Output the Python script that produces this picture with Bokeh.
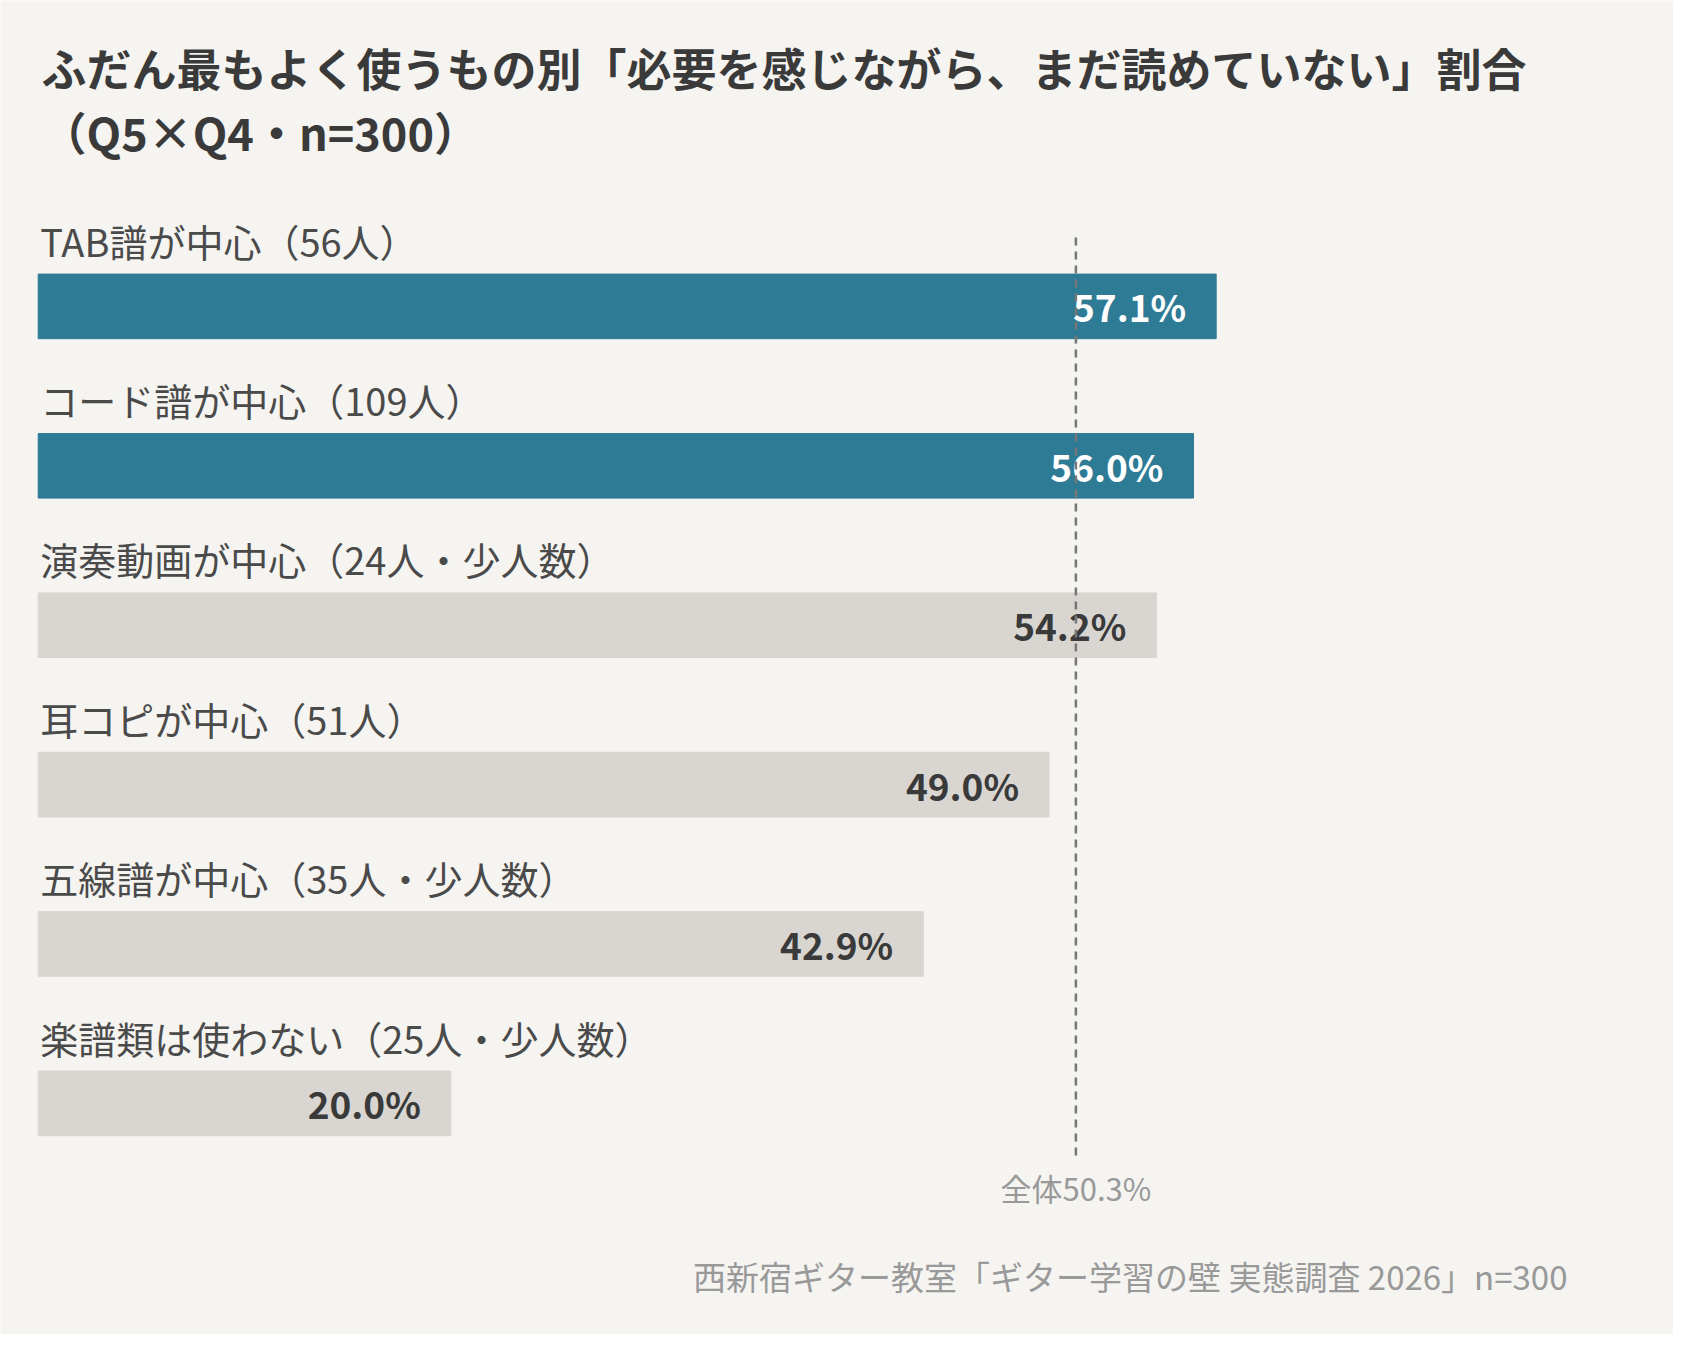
from bokeh.plotting import figure
from bokeh.models import Range1d, ColumnDataSource
from bokeh.core.properties import value
from bokeh.embed import file_html
from bokeh.resources import INLINE

categories = ["TAB譜が中心（56人）", "コード譜が中心（109人）", "演奏動画が中心（24人・少人数）",
              "耳コピが中心（51人）", "五線譜が中心（35人・少人数）", "楽譜類は使わない（25人・少人数）"]
values = [57.1, 56.0, 54.2, 49.0, 42.9, 20.0]
highlight = [True, True, False, False, False, False]
overall = 50.3

W, H = 1673, 1334
PX = 20.63
X0 = 37.7
DY = 8
FONT = "Noto Sans CJK JP"
p = figure(width=W, height=H, output_backend="svg", toolbar_location=None,
           x_range=Range1d(-X0 / PX, (W - X0) / PX), y_range=Range1d(H, 0),
           min_border=0, background_fill_color="#f5f4f1", border_fill_color="#f5f4f1")
p.axis.visible = False
p.grid.visible = False
p.outline_line_color = None

tops = [DY + 265.6 + 159.4 * i for i in range(len(values))]
bh = 64.6
src = ColumnDataSource(dict(
    left=[0] * len(values), right=values,
    top=tops, bottom=[t + bh for t in tops],
    color=["#2e7b96" if h else "#d9d6d2" for h in highlight],
    lab_y=[t - 34 for t in tops], cat=categories,
    val_x=[v - 30 / PX for v in values], val_y=[t + bh / 2 for t in tops],
    val=[f"{v:.1f}%" for v in values],
    val_color=["#ffffff" if h else "#3a3a3a" for h in highlight],
))
p.quad(left="left", right="right", top="top", bottom="bottom", color="color", source=src)
p.text(x=0.1, y="lab_y", text="cat", source=src, text_font=value(FONT), text_font_size="38px",
       text_color="#4a4a4a", text_baseline="middle")
p.text(x="val_x", y="val_y", text="val", source=src, text_font=value(FONT), text_font_size="37px",
       text_font_style="bold", text_color="val_color", text_align="right", text_baseline="middle")

p.segment(x0=[overall], x1=[overall], y0=[DY + 229], y1=[DY + 1150], line_color="#777777",
          line_width=2.5, line_dash="8 6")
p.text(x=[overall], y=[DY + 1179], text=[f"全体{overall}%"], text_font=value(FONT), text_font_size="31px",
       text_color="#999999", text_align="center", text_baseline="middle")

p.text(x=[0.16, 0.16], y=[DY + 59, DY + 123],
       text=["ふだん最もよく使うもの別「必要を感じながら、まだ読めていない」割合", "（Q5×Q4・n=300）"],
       text_font=value(FONT), text_font_size="45px", text_font_style="bold",
       text_color="#3a3a3a", text_baseline="middle")
p.text(x=[(1567 - X0) / PX], y=[DY + 1267], text=["西新宿ギター教室「ギター学習の壁 実態調査 2026」n=300"],
       text_font=value(FONT), text_font_size="33px", text_color="#999999",
       text_align="right", text_baseline="middle")

open("out.html", "w").write(file_html(p, INLINE))
